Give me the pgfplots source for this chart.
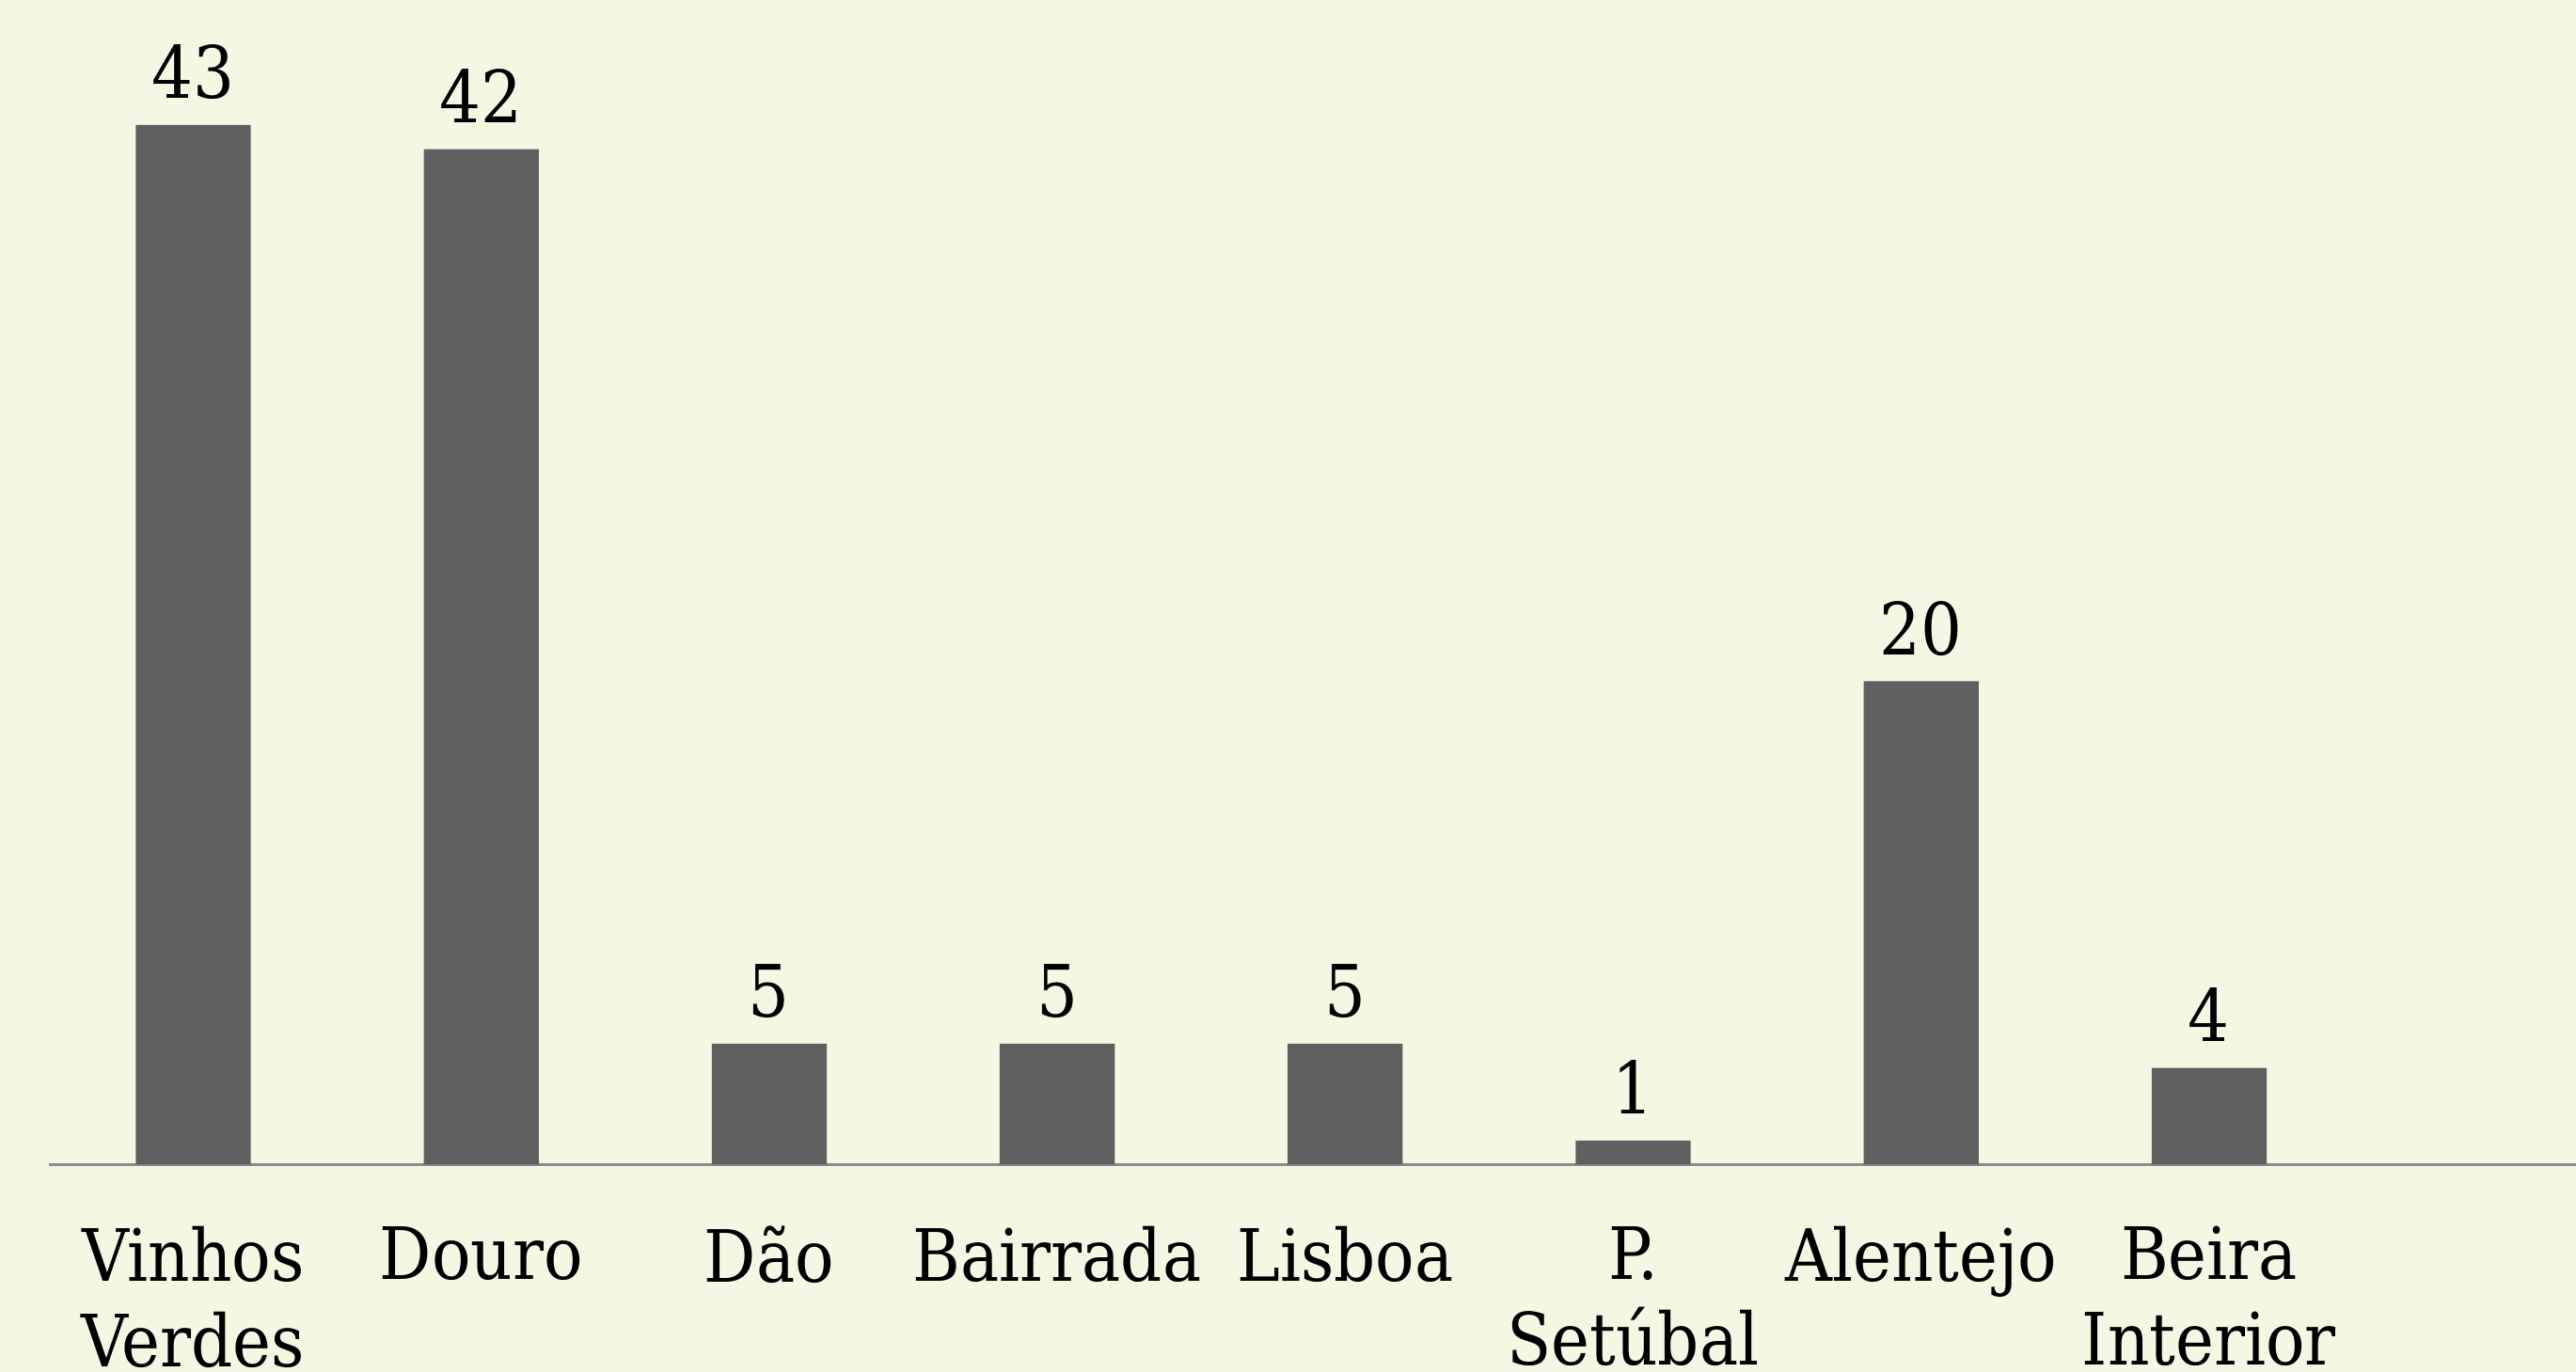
\documentclass[border=0pt]{standalone}
\usepackage{fontspec}
\setmainfont{DejaVu Serif Condensed}
\usepackage{pgfplots}
\pgfplotsset{compat=1.18}
\definecolor{bg}{HTML}{F3F8E3}
\definecolor{barc}{HTML}{606060}
\definecolor{axl}{HTML}{8C8C8C}
\begin{document}
\begin{tikzpicture}
\fill[bg] (0,0) rectangle (15.68,8.35);
\clip (0,0) rectangle (15.68,8.35);
\begin{axis}[
  at={(0.30cm,1.26cm)}, anchor=south west,
  scale only axis, width=15.38cm, height=7.09cm,
  xmin=-0.5, xmax=8.274, ymin=0, ymax=48.17,
  axis x line=bottom, axis y line=none,
  axis line style={draw=axl, line width=0.6pt, -},
  ybar, bar width=0.70cm,
  xtick=data, major tick length=0pt,
  xticklabels={{Vinhos\\Verdes},Douro,Dão,Bairrada,Lisboa,{P.\\Setúbal},Alentejo,{Beira\\Interior}},
  xticklabel style={font=\fontsize{12.5}{14.8}\selectfont, align=center, anchor=north, inner sep=0pt, yshift=-0.37cm},
  ytick=\empty,
  /pgf/number format/assume math mode=true,
  nodes near coords,
  every node near coord/.append style={font=\fontsize{12.5}{14.8}\selectfont, anchor=base, inner sep=0pt, yshift=0.16cm, text=black},
  clip=false,
]
\addplot[fill=barc, draw=none] coordinates {(0,43) (1,42) (2,5) (3,5) (4,5) (5,1) (6,20) (7,4)};
\end{axis}
\end{tikzpicture}
\end{document}
